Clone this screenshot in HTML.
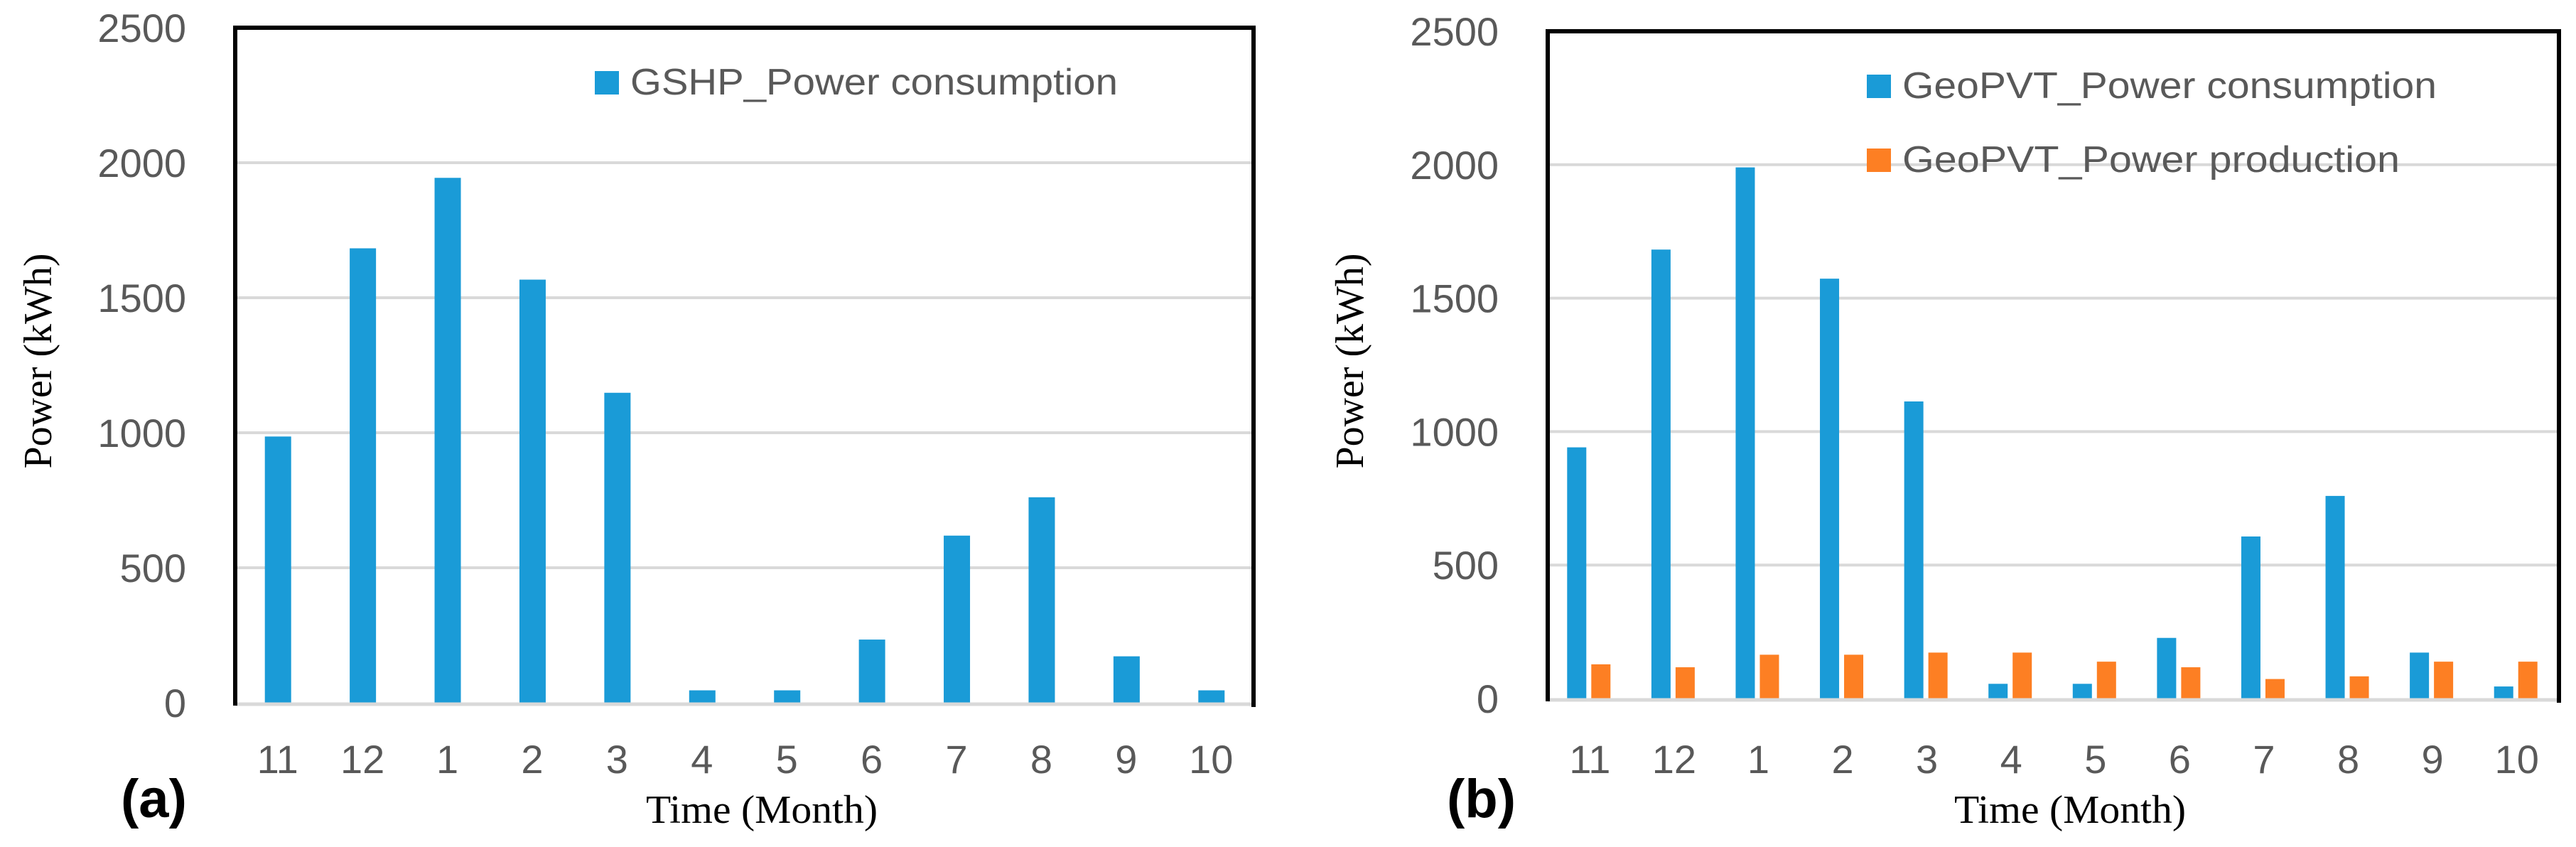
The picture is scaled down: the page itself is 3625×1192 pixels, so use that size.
<!DOCTYPE html>
<html><head><meta charset="utf-8"><style>
html,body{margin:0;padding:0;background:#fff;}
svg{display:block;}
.tick{font-family:"Liberation Sans",sans-serif;font-size:56px;fill:#595959;}
.leg{font-family:"Liberation Sans",sans-serif;font-size:52px;fill:#595959;}
.ttl{font-family:"Liberation Serif",serif;font-size:56px;fill:#000;}
.pl{font-family:"Liberation Sans",sans-serif;font-size:76px;font-weight:bold;fill:#000;}
</style></head><body>
<svg id="chart" width="3625" height="1192" viewBox="0 0 3625 1192" xmlns="http://www.w3.org/2000/svg"></svg>
<script>
const categories = ["11","12","1","2","3","4","5","6","7","8","9","10"];
const yTicks = [0,500,1000,1500,2000,2500];
const gshpConsumption = [986,1683,1944,1567,1148,46,46,234,619,761,172,46];
const geoConsumption = [941,1682,1990,1573,1113,55,55,227,607,759,172,45];
const geoProduction = [128,117,164,164,172,172,138,117,73,83,138,138];

const NS = "http://www.w3.org/2000/svg";
const svg = document.getElementById("chart");
function mk(tag, attrs, parent){
  const e = document.createElementNS(NS, tag);
  for (const k in attrs) e.setAttribute(k, attrs[k]);
  (parent||svg).appendChild(e);
  return e;
}
function drawPanel(p){
  const g = mk("g", {});
  
  
  const yScale = v => p.y0 - (v/2500)*(p.y0 - p.yTop);
  const band = (p.x1 - p.x0)/categories.length;
  const xCenter = i => p.x0 + band*(i+0.5);
  // gridlines
  yTicks.forEach(t => {
    if (t>0 && t<2500) {
      const l = mk("line", {x1:p.x0, x2:p.x1, y1:yScale(t), y2:yScale(t), stroke:"#d9d9d9", "stroke-width":4}, g);
      
      
    }
    const tx = mk("text", {x:p.x0-69, y:yScale(t)+20, "text-anchor":"end", class:"tick"}, g);
    tx.textContent = t;
    
    
  });
  // bars
  p.series.forEach(s => {
    s.values.forEach((v,i) => {
      const c = xCenter(i);
      const r = mk("rect", {x:c+s.off, y:yScale(v), width:s.w, height:p.y0-yScale(v), fill:s.color}, g);
      
      
    });
  });
  categories.forEach((c,i) => {
    const tx = mk("text", {x:xCenter(i), y:1088, "text-anchor":"middle", class:"tick"}, g);
    tx.textContent = c;
    
    
  });
  // x axis
  const ax = mk("line", {x1:p.x0, x2:p.x1, y1:p.y0+2, y2:p.y0+2, stroke:"#d9d9d9", "stroke-width":5}, g);
  
  
  // frame
  const fr = mk("path", {d:`M${p.x0} ${p.y0+4} L${p.x0} ${p.yTop} L${p.x1} ${p.yTop} L${p.x1} ${p.y0+6}`, fill:"none", stroke:"#000", "stroke-width":6}, g);
  
  
  // legend
  p.legend.forEach(L => {
    const sq = mk("rect", {x:L.x, y:L.y-33, width:34, height:33, fill:L.color}, g);
    
    
    const t = mk("text", {x:L.x+50, y:L.y, class:"leg", textLength:L.len, lengthAdjust:"spacingAndGlyphs"}, g);
    t.textContent = L.text;
    
    
  });
  const xt = mk("text", {x:p.xTitle, y:1158, "text-anchor":"middle", class:"ttl", textLength:326, lengthAdjust:"spacingAndGlyphs"}, g);
  xt.textContent = "Time (Month)";
  
  
  const yt = mk("text", {x:0, y:0, "text-anchor":"middle", class:"ttl", transform:`translate(${p.yTitleX},508) rotate(-90)`, textLength:303, lengthAdjust:"spacingAndGlyphs"}, g);
  yt.textContent = "Power (kWh)";
  
  
  const pl = mk("text", {x:p.labelX, y:1150, class:"pl"}, g);
  pl.textContent = p.label;
  
  
}
drawPanel({name:"panel-a", x0:331, x1:1764, y0:989, yTop:39, xTitle:1072, yTitleX:72, labelX:170, label:"(a)",
  series:[{values:gshpConsumption, color:"#1a9bd7", off:-18, w:37, barName:"bar-gshp-consumption"}],
  legend:[{x:837, y:133, color:"#1a9bd7", text:"GSHP_Power consumption", len:686}]});
drawPanel({name:"panel-b", x0:2178, x1:3601, y0:983, yTop:44, xTitle:2913, yTitleX:1918, labelX:2036, label:"(b)",
  series:[{values:geoConsumption, color:"#1a9bd7", off:-32, w:27, barName:"bar-geopvt-consumption"},
          {values:geoProduction, color:"#fd7f23", off:2, w:27, barName:"bar-geopvt-production"}],
  legend:[{x:2627, y:138, color:"#1a9bd7", text:"GeoPVT_Power consumption", len:752},
          {x:2627, y:242, color:"#fd7f23", text:"GeoPVT_Power production", len:700}]});
</script>
</body></html>
